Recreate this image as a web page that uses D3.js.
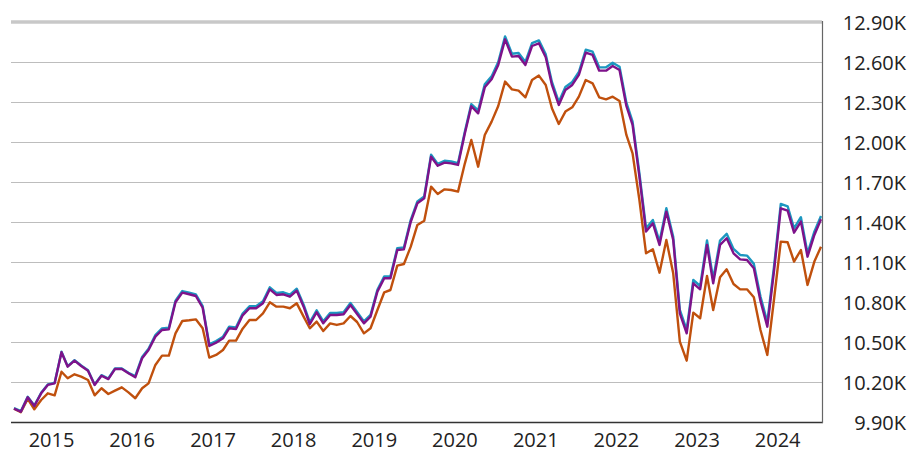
<!DOCTYPE html>
<html>
<head>
<meta charset="utf-8">
<script src="https://cdn.jsdelivr.net/npm/d3@7"></script>
<style>
  body { margin: 0; background: #fff; }
  svg { display: block; font-family: "Open Sans", "Noto Sans", sans-serif; }
</style>
</head>
<body>
<svg id="chart" width="908" height="452"></svg>
<script>
var width = 908;
var height = 452;

// monthly values, Jul 2014 .. Jul 2024 (growth of 10K)
var seriesTeal = [
  10004, 9981, 10089, 10024, 10119, 10182, 10194, 10427, 10319, 10364, 10324, 10289, 10182, 10251, 10226, 10301, 10301, 10269,
  10245, 10388, 10450, 10552, 10602, 10607, 10810, 10882, 10870, 10857, 10769, 10482, 10507, 10540, 10615, 10610, 10714,
  10768, 10768, 10805, 10910, 10868, 10873, 10855, 10900, 10780, 10648, 10738, 10655, 10718, 10718, 10723, 10793, 10725,
  10654, 10704, 10892, 10992, 10992, 11204, 11209, 11416, 11554, 11592, 11904, 11836, 11859, 11854, 11842, 12079, 12284,
  12237, 12432, 12492, 12600, 12792, 12662, 12667, 12600, 12742, 12762, 12657, 12450, 12300, 12412, 12450, 12525, 12692,
  12678, 12560, 12560, 12595, 12565, 12295, 12153, 11765, 11353, 11415, 11253, 11503, 11290, 10740, 10590, 10965, 10920,
  11261, 10973, 11261, 11311, 11198, 11153, 11148, 11086, 10841, 10648, 11061, 11536, 11518, 11353, 11436, 11165, 11328, 11445
];

var seriesPurple = [
  10000, 9977, 10085, 10020, 10115, 10178, 10190, 10423, 10315, 10360, 10320, 10285, 10178, 10247, 10222, 10297, 10297, 10265,
  10235, 10378, 10440, 10540, 10590, 10595, 10798, 10870, 10858, 10845, 10757, 10470, 10495, 10528, 10603, 10598, 10700,
  10753, 10753, 10790, 10895, 10853, 10858, 10840, 10885, 10765, 10633, 10723, 10640, 10703, 10703, 10708, 10778, 10710,
  10640, 10690, 10878, 10978, 10978, 11190, 11195, 11402, 11540, 11578, 11890, 11822, 11845, 11840, 11828, 12065, 12268,
  12215, 12410, 12470, 12578, 12770, 12640, 12645, 12578, 12720, 12740, 12635, 12428, 12278, 12390, 12428, 12503, 12670,
  12653, 12535, 12535, 12570, 12540, 12270, 12128, 11740, 11328, 11390, 11228, 11478, 11265, 10715, 10565, 10940, 10895,
  11228, 10940, 11228, 11278, 11165, 11120, 11115, 11053, 10808, 10615, 11028, 11503, 11485, 11320, 11403, 11140, 11303, 11420
];

var seriesOrange = [
  10000, 9973, 10073, 9995, 10065, 10115, 10100, 10277, 10228, 10258, 10240, 10215, 10100, 10153, 10110, 10135, 10160, 10122,
  10078, 10153, 10190, 10328, 10398, 10398, 10565, 10658, 10663, 10670, 10603, 10383, 10403, 10440, 10510, 10510, 10600,
  10665, 10665, 10715, 10798, 10765, 10765, 10753, 10790, 10690, 10603, 10653, 10583, 10640, 10628, 10640, 10695, 10650,
  10565, 10603, 10740, 10873, 10890, 11073, 11085, 11215, 11378, 11410, 11665, 11610, 11645, 11640, 11628, 11840, 12015,
  11815, 12053, 12153, 12270, 12453, 12395, 12385, 12335, 12465, 12498, 12428, 12253, 12135, 12228, 12260, 12340, 12465,
  12440, 12335, 12320, 12340, 12308, 12053, 11915, 11565, 11165, 11195, 11020, 11265, 11015, 10503, 10360, 10720, 10678,
  10995, 10740, 10985, 11045, 10935, 10895, 10895, 10835, 10590, 10403, 10815, 11253, 11248, 11103, 11190, 10928, 11103, 11215
];

var yTicks = [9900, 10200, 10500, 10800, 11100, 11400, 11700, 12000, 12300, 12600, 12900];
var yearTicks = [2015, 2016, 2017, 2018, 2019, 2020, 2021, 2022, 2023, 2024];

var dates = seriesPurple.map(function(d, i) {
  return new Date(2014, 6 + i, 15);
});

var plotLeft = 11, plotRight = 822, plotTop = 22, plotBottom = 422;

var x = d3.scaleTime()
  .domain([dates[0], dates[dates.length - 1]])
  .range([14, 821]);

var y = d3.scaleLinear()
  .domain([9900, 12900])
  .range([plotBottom, plotTop]);

var svg = d3.select('#chart');

//Gridlines
svg.append('g')
  .selectAll('line')
  .data(yTicks.filter(function(d) { return d > 9900 && d < 12900; }))
  .enter()
  .append('line')
  .attr('x1', plotLeft).attr('x2', plotRight)
  .attr('y1', function(d) { return y(d) + 0.5; })
  .attr('y2', function(d) { return y(d) + 0.5; })
  .style('stroke', '#bdbdbd').style('stroke-width', 1);

// top line (12.90K) thicker and lighter
svg.append('line')
  .attr('x1', plotLeft).attr('x2', plotRight)
  .attr('y1', y(12900)).attr('y2', y(12900))
  .style('stroke', '#c8c8c8').style('stroke-width', 3.5);

//Lines
var line = function(values) {
  return d3.line()
    .x(function(d, i) { return x(dates[i]); })
    .y(function(d) { return y(d); })(values);
};

svg.append('path').attr('d', line(seriesOrange))
  .style('fill', 'none').style('stroke', '#c0500d').style('stroke-width', 2.4).style('stroke-linejoin', 'round');
svg.append('path').attr('d', line(seriesTeal))
  .style('fill', 'none').style('stroke', '#1c97c0').style('stroke-width', 2.4).style('stroke-linejoin', 'round');
svg.append('path').attr('d', line(seriesPurple))
  .style('fill', 'none').style('stroke', '#7e128a').style('stroke-width', 2.4).style('stroke-linejoin', 'round');

// bottom axis line and right frame
svg.append('line')
  .attr('x1', plotLeft).attr('x2', plotRight + 1)
  .attr('y1', plotBottom + 0.5).attr('y2', plotBottom + 0.5)
  .style('stroke', '#333').style('stroke-width', 1.5);
svg.append('line')
  .attr('x1', plotRight + 0.5).attr('x2', plotRight + 0.5)
  .attr('y1', plotTop - 1).attr('y2', plotBottom + 1)
  .style('stroke', '#666').style('stroke-width', 1.2);

//Y labels
svg.append('g')
  .selectAll('text')
  .data(yTicks)
  .enter()
  .append('text')
  .attr('x', 906)
  .attr('y', function(d) { return y(d) + 8; })
  .attr('text-anchor', 'end')
  .style('font-size', '20px')
  .style('fill', '#222')
  .text(function(d) { return d3.format('.2f')(d / 1000) + 'K'; });

//X labels
svg.append('g')
  .selectAll('text')
  .data(yearTicks)
  .enter()
  .append('text')
  .attr('x', function(d) { return x(new Date(d, 0, 1)); })
  .attr('y', 447)
  .attr('text-anchor', 'middle')
  .style('font-size', '20px')
  .style('fill', '#222')
  .text(function(d) { return d; });
</script>
</body>
</html>
